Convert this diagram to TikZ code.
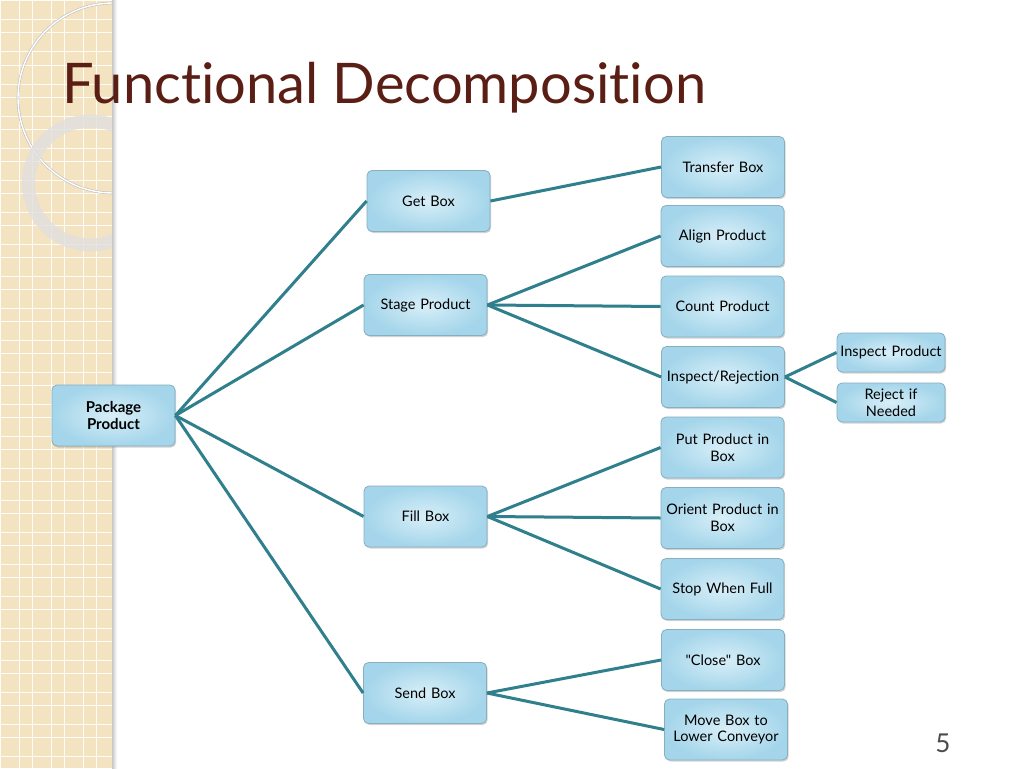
\documentclass[tikz,border=0pt]{standalone}
\usepackage{fontspec}
\setmainfont{Lato}[Ligatures={NoCommon, TeXOff}]
\usetikzlibrary{shadows}
\definecolor{titlebrown}{HTML}{5A1E14}
\definecolor{linkteal}{HTML}{2F7F8C}
\definecolor{boxedge}{HTML}{86AFC0}
\definecolor{boxlight}{HTML}{D8EFF8}
\definecolor{boxdark}{HTML}{A4D5EA}
\definecolor{stripbeige}{HTML}{F4E3C0}

\begin{document}
\begin{tikzpicture}[x=1pt, y=-1pt,
  box/.style={draw=boxedge, line width=0.8pt, rounded corners=5pt,
              inner color=boxlight, outer color=boxdark,
              minimum width=123pt, minimum height=61pt, text width=119pt,
              inner xsep=2pt, align=center, font=\fontsize{14.5}{16.8}\selectfont,
              drop shadow={opacity=0.35, shadow xshift=1.2pt, shadow yshift=-1.5pt}},
  smallbox/.style={box, minimum width=108pt, minimum height=39pt, text width=104pt},
  gridline/.style={white, line width=1pt, opacity=0.9}]
\useasboundingbox (0,0) rectangle (1024,768);
\fill[white] (0,0) rectangle (1024,768);

% left strip
\begin{scope}
    \clip (0,0) rectangle (112,768);
    \fill[stripbeige] (0,0) rectangle (112,768);
    \foreach \k in {-1,...,23} {
        \draw[gridline] (0,{20+32*\k}) -- (112,{20+32*\k});
        \draw[gridline] (0,{33+32*\k}) -- (112,{33+32*\k});
    }
    \foreach \k in {0,...,3} {
        \draw[gridline] ({32*\k},0) -- ({32*\k},768);
        \draw[gridline] ({19+32*\k},0) -- ({19+32*\k},768);
    }
    \draw[black!25, line width=2.6pt] (113,98) circle[radius=95];
    \draw[white, line width=1.4pt] (113,98) circle[radius=95];
    \draw[black!12, line width=13pt, opacity=0.8] (90.5,183) circle[radius=62];
\end{scope}
\shade[left color=black!22, right color=white] (112,0) rectangle (117,768);

\node[anchor=base west, inner sep=0pt, text=titlebrown,
      font=\fontsize{56}{60}\selectfont] (title) at (62,103) {Functional Decomposition};

% boxes
\node[box, font=\bfseries\fontsize{15}{17.5}\selectfont] (pkg) at (113.5,415.5) {Package\\Product};
\node[box] (getbox) at (428.5,201) {Get Box};
\node[box] (stage) at (425.5,305) {Stage Product};
\node[box] (fill) at (425.5,516.5) {Fill Box};
\node[box] (send) at (425,693) {Send Box};

\node[box] (transfer) at (723,167) {Transfer Box};
\node[box] (align) at (722.5,236) {Align Product};
\node[box] (count) at (722.5,306.5) {Count Product};
\node[box] (inspect) at (723,377) {Inspect/Rejection};
\node[box] (put) at (722.5,447.5) {Put Product in\\Box};
\node[box] (orient) at (722.5,518) {Orient Product in\\Box};
\node[box] (stop) at (722.5,589) {Stop When Full};
\node[box] (close) at (723,660) {"Close" Box};
\node[box] (move) at (726,729.5) {Move Box to\\Lower Conveyor};

\node[smallbox] (inprod) at (891,352.5) {Inspect Product};
\node[smallbox] (reject) at (891,402.5) {Reject if\\Needed};

% links
\begin{scope}[every edge/.style={draw=linkteal, line width=3pt}]
    \path (pkg.east) edge (getbox.west) edge (stage.west)
                     edge (fill.west) edge (send.west);
    \path (getbox.east) edge (transfer.west);
    \path (stage.east) edge (align.west) edge (count.west) edge (inspect.west);
    \path (inspect.east) edge (inprod.west) edge (reject.west);
    \path (fill.east) edge (put.west) edge (orient.west) edge (stop.west);
    \path (send.east) edge (close.west) edge (move.west);
\end{scope}

\node[anchor=base, inner sep=0pt, text=black!70,
      font=\fontsize{26}{28}\selectfont] (pagenum) at (943,752) {5};
\end{tikzpicture}
\end{document}
